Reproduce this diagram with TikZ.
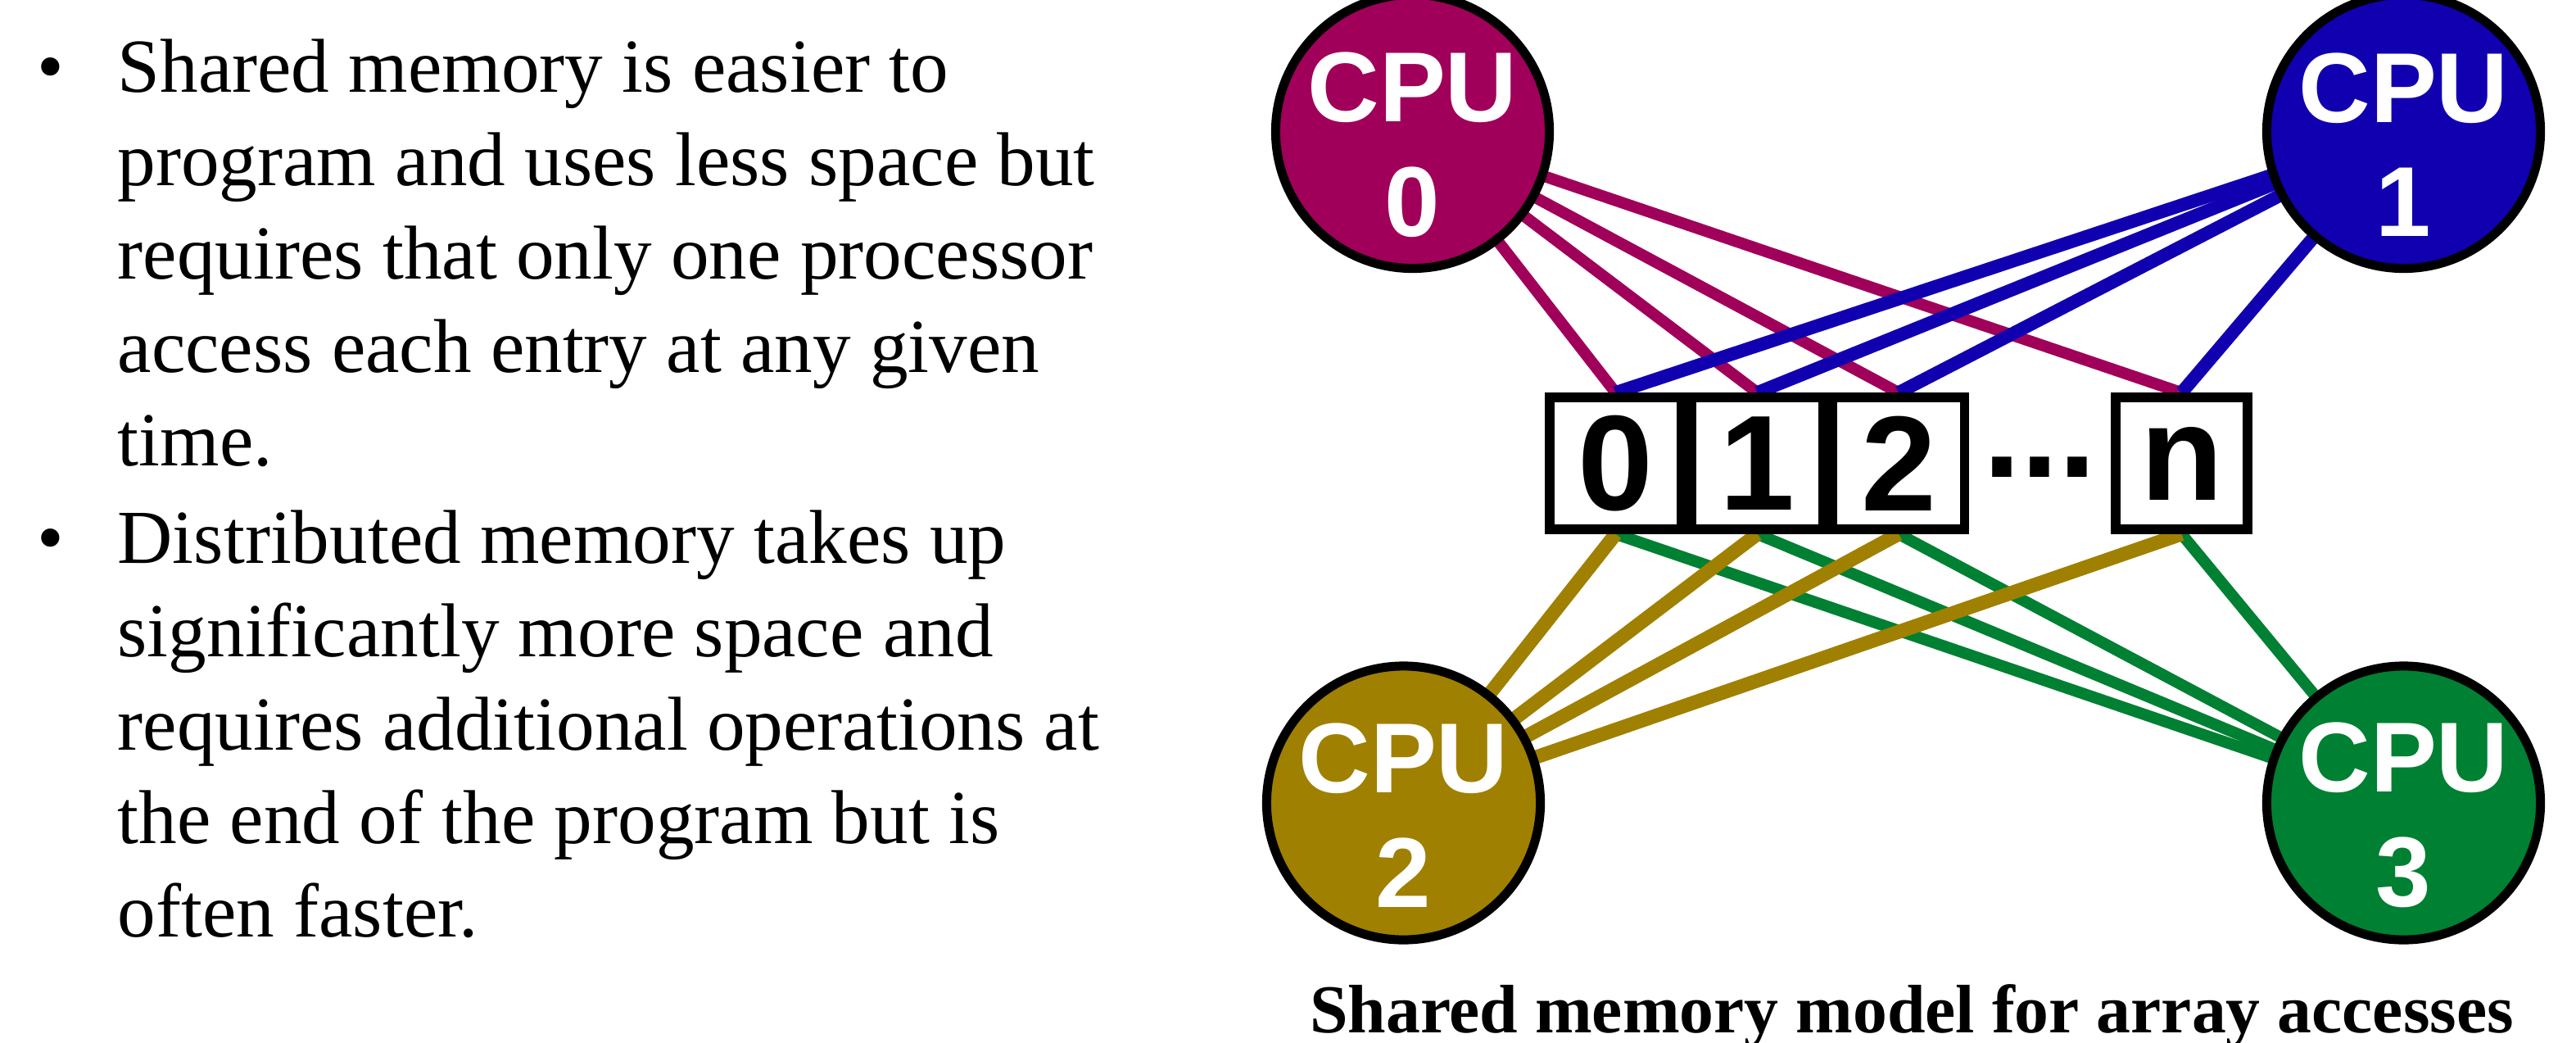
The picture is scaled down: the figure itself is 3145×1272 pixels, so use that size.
\documentclass[tikz,border=0pt]{standalone}
\usepackage{fontspec}
\setmainfont{Liberation Serif}
\setsansfont{Liberation Sans}
\definecolor{cMag}{RGB}{160,0,90}
\definecolor{cBlue}{RGB}{16,0,176}
\definecolor{cGold}{RGB}{160,128,0}
\definecolor{cGreen}{RGB}{0,128,50}
\pgfdeclarelayer{bg}
\pgfsetlayers{bg,main}
\begin{document}
\begin{tikzpicture}[x=0.01cm,y=-0.01cm,
  cpu/.style={circle,draw=black,line width=0.11cm,minimum size=3.34cm,inner sep=0pt},
  cpulabel/.style={text=white,font=\sffamily\bfseries\fontsize{34.5}{39.7}\selectfont,align=center,inner sep=0pt},
  cell/.style={draw=black,fill=white,line width=0.115cm,minimum size=1.61cm,inner sep=0pt,font=\sffamily\bfseries\fontsize{47}{50}\selectfont},
  body/.style={anchor=base west,inner sep=0pt,font=\fontsize{26.5}{32}\selectfont},
  link/.style={line width=0.14cm},
  caption/.style={anchor=base,inner sep=0pt,font=\bfseries\fontsize{23.8}{28}\selectfont}
]
\useasboundingbox (0,0) rectangle (3145,1272);

% left text
\node[body] (bul1) at (44.5,112) {•};
\node[body] (t1) at (143,112) {Shared memory is easier to};
\node[body] (t2) at (143,226) {program and uses less space but};
\node[body] (t3) at (143,340) {requires that only one processor};
\node[body] (t4) at (143,454) {access each entry at any given};
\node[body] (t5) at (143,568) {time.};
\node[body] (bul2) at (44.5,687) {•};
\node[body] (t6) at (143,687) {Distributed memory takes up};
\node[body] (t7) at (143,801) {significantly more space and};
\node[body] (t8) at (143,915) {requires additional operations at};
\node[body] (t9) at (143,1029) {the end of the program but is};
\node[body] (t10) at (143,1143) {often faster.};

% CPUs
\node[cpu,fill=cMag] (cpu0) at (1724.5,160.5) {};
\node[cpu,fill=cBlue] (cpu1) at (2934.5,160.5) {};
\node[cpu,fill=cGold] (cpu2) at (1713.5,980) {};
\node[cpu,fill=cGreen] (cpu3) at (2934.5,980) {};
\node[cpulabel] (l0) at ([yshift=-0.16cm]cpu0.center) {CPU\\0};
\node[cpulabel] (l1) at ([yshift=-0.16cm]cpu1.center) {CPU\\1};
\node[cpulabel] (l2) at ([yshift=-0.15cm]cpu2.center) {CPU\\2};
\node[cpulabel] (l3) at ([yshift=-0.15cm]cpu3.center) {CPU\\3};

% memory cells
\node[cell] (b0) at (1972.5,565.5) {0};
\node[cell] (b1) at (2145.5,565.5) {1};
\node[cell] (b2) at (2318,565.5) {2};
\node[cell] (bn) at (2663.5,565.5) {n};
\node[inner sep=0pt,font=\sffamily\bfseries\fontsize{47}{50}\selectfont] (dots) at (2490,570) {...};

% caption
\node[caption] (cap) at (2334,1260) {Shared memory model for array accesses};

% connectors
\begin{pgfonlayer}{bg}
\foreach \bx in {b0,b1,b2,bn} {
  \draw[link,cMag] (cpu0.center) -- (\bx.north);
}
\foreach \bx in {b0,b1,b2,bn} {
  \draw[link,cBlue,line width=0.16cm] (cpu1.center) -- (\bx.north);
}
\foreach \bx in {b0,b1,b2,bn} {
  \draw[link,cGreen] (\bx.south) -- (cpu3.center);
}
\foreach \bx in {b0,b1,b2,bn} {
  \draw[link,cGold,line width=0.17cm] (\bx.south) -- (cpu2.center);
}
\end{pgfonlayer}
\end{tikzpicture}
\end{document}
